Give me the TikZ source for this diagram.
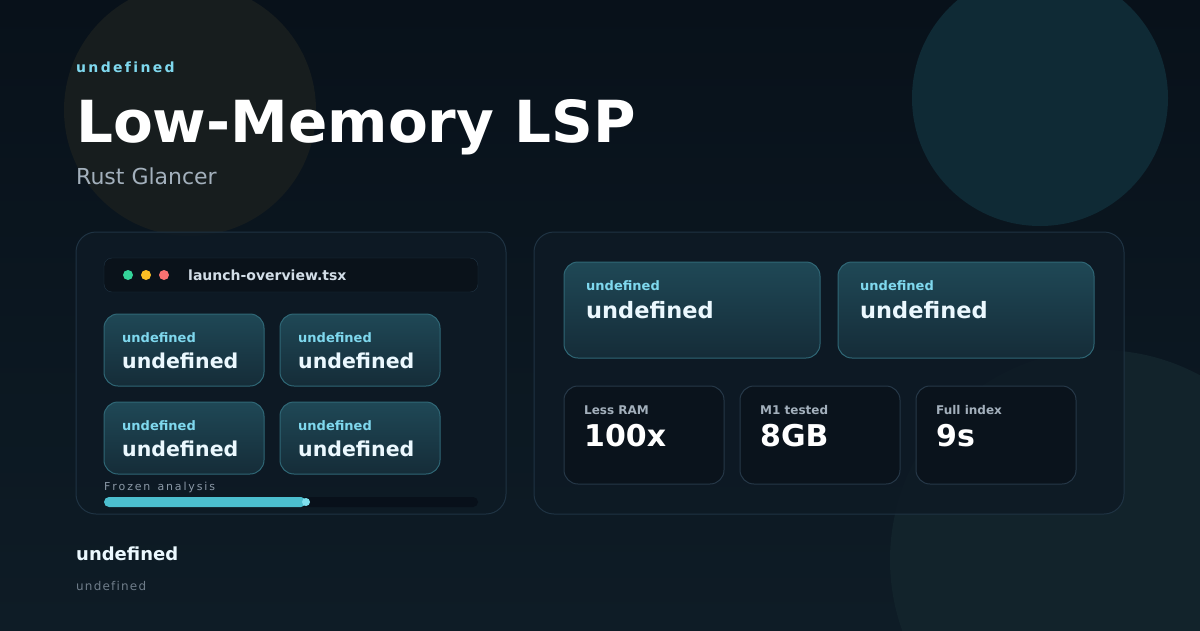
\documentclass[tikz,border=0pt]{standalone}
\usepackage{fontspec}
\setmainfont{DejaVu Sans}
\usetikzlibrary{positioning}
\definecolor{bgA}{HTML}{08111A}
\definecolor{bgB}{HTML}{0E1C26}
\definecolor{panel}{HTML}{0E1A25}
\definecolor{panelline}{HTML}{1F3343}
\definecolor{cardA}{HTML}{1F4856}
\definecolor{cardB}{HTML}{152C38}
\definecolor{cardline}{HTML}{2F6776}
\definecolor{cyanlbl}{HTML}{7FD8EE}
\definecolor{dark}{HTML}{0A121A}
\definecolor{statline}{HTML}{263848}
\definecolor{graytxt}{HTML}{A3B0BC}
\definecolor{bar}{HTML}{4CBFCF}
\definecolor{discA}{HTML}{171D1E}
\definecolor{discB}{HTML}{0F2A35}
\definecolor{discC}{HTML}{12232B}
\definecolor{dotG}{HTML}{34D399}
\definecolor{dotY}{HTML}{FBBF24}
\definecolor{dotR}{HTML}{F87171}
\definecolor{filetxt}{HTML}{D3DEE8}
\definecolor{mutedA}{HTML}{8A98A6}
\definecolor{mutedB}{HTML}{6F7D8A}
\definecolor{track}{HTML}{08101A}
\definecolor{knob}{HTML}{7FE0EE}
\tikzset{
  panelbox/.style={draw=panelline, line width=1pt, fill=panel, fill opacity=0.85, rounded corners=20pt},
  card/.style={draw=cardline, line width=1pt, top color=cardA, bottom color=cardB, rounded corners=14pt},
  stat/.style={draw=statline, line width=1pt, fill=dark, fill opacity=0.8, rounded corners=14pt},
  lbl/.style={anchor=base west, inner sep=0, text=cyanlbl, font=\bfseries\fontsize{13}{13}\selectfont},
  val/.style={anchor=base west, inner sep=0, text=white!92!cyan, font=\bfseries\fontsize{20.5}{20.5}\selectfont},
  statlbl/.style={anchor=base west, inner sep=0, text=graytxt, font=\bfseries\fontsize{12}{12}\selectfont},
  statval/.style={anchor=base west, inner sep=0, text=white, font=\bfseries\fontsize{30}{30}\selectfont},
}
\begin{document}
\begin{tikzpicture}[x=1pt,y=-1pt]
  \path[use as bounding box, top color=bgA, bottom color=bgB] (0,0) rectangle (1200,630);
  % background discs
  \fill[discA] (190,110) circle (126);
  \fill[discB] (1040,98) circle (128);
  \fill[discC] (1100,560) circle (210);
  % heading
  \node[anchor=base west, inner sep=0, text=cyanlbl, font=\bfseries\fontsize{14}{14}\selectfont] (kicker) at (76,72) {u\,n\,d\,e\,f\,i\,n\,e\,d\kern-2pt};
  \node[anchor=base west, inner sep=0, text=white, font=\bfseries\fontsize{58}{58}\selectfont] (title) at (76,142) {Low-Memory LSP};
  \node[anchor=base west, inner sep=0, text=graytxt, font=\fontsize{22}{22}\selectfont] (sub) at (76,184) {Rust Glancer};
  % left panel
  \draw[panelbox] (76,232) rectangle (506,514);
  \draw[draw=panelline, fill=dark, rounded corners=8pt] (104,258) rectangle (478,292);
  \fill[dotG] (128,275) circle (5);
  \fill[dotY] (146,275) circle (5);
  \fill[dotR] (164,275) circle (5);
  \node[anchor=base west, inner sep=0, text=filetxt, font=\bfseries\fontsize{14}{14}\selectfont] (file) at (188,280) {launch-overview.tsx};
  \foreach \x/\y [count=\i] in {104/314, 280/314, 104/402, 280/402} {
    \draw[card] (\x,\y) rectangle ++(160,72);
    \node[lbl] (ml\i) at (\x+18,\y+28) {undefined};
    \node[val] (mv\i) at (\x+18,\y+54) {undefined};
  }
  \node[anchor=base west, inner sep=0, text=mutedA, font=\fontsize{11}{11}\selectfont] (frozen) at (104,490) {F\,r\,o\,z\,e\,n\, \,a\,n\,a\,l\,y\,s\,i\,s};
  \fill[track, rounded corners=5pt] (104,497) rectangle (478,507);
  \fill[bar, rounded corners=5pt] (104,497) rectangle (306,507);
  \fill[knob] (306,502) circle (4);
  % right panel
  \draw[panelbox] (534,232) rectangle (1124,514);
  \foreach \x [count=\i] in {564, 838} {
    \draw[card] (\x,262) rectangle ++(256,96);
    \node[lbl] (bl\i) at (\x+22,290) {undefined};
    \node[val, font=\bfseries\fontsize{22.5}{22.5}\selectfont] (bv\i) at (\x+22,318) {undefined};
  }
  \foreach \x/\l/\v [count=\i] in {564/Less RAM/100x, 740/M1 tested/8GB, 916/Full index/9s} {
    \draw[stat] (\x,386) rectangle ++(160,98);
    \node[statlbl] (sl\i) at (\x+20,414) {\l};
    \node[statval] (sv\i) at (\x+20,446) {\v};
  }
  % footer
  \node[anchor=base west, inner sep=0, text=white!92!cyan, font=\bfseries\fontsize{18}{18}\selectfont] (foot) at (76,560) {undefined};
  \node[anchor=base west, inner sep=0, text=mutedB, font=\fontsize{12}{12}\selectfont] (footsub) at (76,590) {u\kern1.2pt n\kern1.2pt d\kern1.2pt e\kern1.2pt f\kern1.2pt i\kern1.2pt n\kern1.2pt e\kern1.2pt d};
\end{tikzpicture}
\end{document}
